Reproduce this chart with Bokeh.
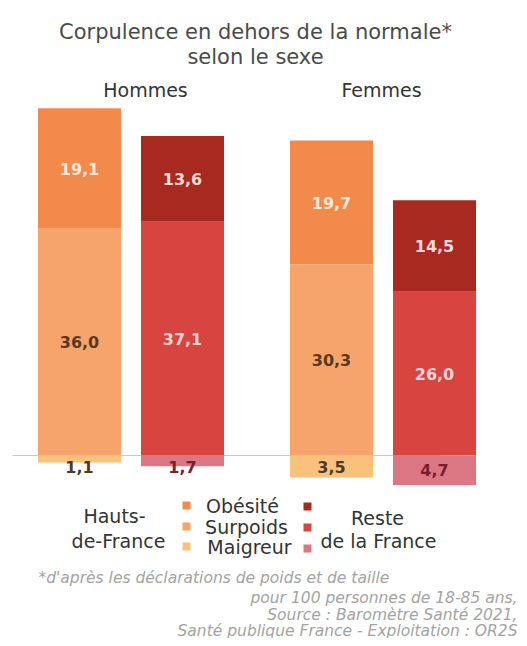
from bokeh.plotting import figure
from bokeh.models import Range1d, ColumnDataSource, Label
from bokeh.core.properties import value
from bokeh.embed import file_html
from bokeh.resources import INLINE

# ---- data ----
groups = ["Hommes", "Femmes"]
regions = ["Hauts-de-France", "Reste de la France"]
categories = ["Obésité", "Surpoids", "Maigreur"]
obesite_hdf = [19.1, 19.7]
surpoids_hdf = [36.0, 30.3]
maigreur_hdf = [1.1, 3.5]
obesite_reste = [13.6, 14.5]
surpoids_reste = [37.1, 26.0]
maigreur_reste = [1.7, 4.7]

# ---- layout helpers (picture pixels -> data / screen) ----
W, H = 519, 638
PX = 6.3          # pixels per percentage point
BASE = 455        # picture y of zero line
def dy(py):
    return (BASE - py) / PX
def sy(py):
    return H - py
def sx(px):
    return px

FONT_NAME = "DejaVu Sans"
FONT = value(FONT_NAME)
group_centers = [130, 382]
offsets = [-51, 52]
bar_w = 83

colors = {
    "Hauts-de-France": ["#F28A4C", "#F6A46C", "#F8C27C"],
    "Reste de la France": ["#A8291F", "#D8443F", "#DA7782"],
}
label_colors = {
    "Hauts-de-France": ["#FBE9DC", "#5A381C", "#4A3A2A"],
    "Reste de la France": ["#F6DCD8", "#F6D5D5", "#7A1E2C"],
}

p = figure(width=W, height=H, output_backend="svg", toolbar_location=None,
           x_range=Range1d(0, W), y_range=Range1d(dy(H), dy(0)),
           min_border=0, outline_line_color=None)
p.axis.visible = False
p.grid.visible = False
p.background_fill_color = "white"

# zero line
p.segment(x0=[12], x1=[440], y0=[0], y1=[0], line_color="#C8C8C8", line_width=1.2)

def fmt(v):
    return f"{v:.1f}".replace(".", ",")

series = {
    "Hauts-de-France": (obesite_hdf, surpoids_hdf, maigreur_hdf),
    "Reste de la France": (obesite_reste, surpoids_reste, maigreur_reste),
}
for ri, region in enumerate(regions):
    ob, su, ma = series[region]
    xs = [g + offsets[ri] for g in group_centers]
    src_s = ColumnDataSource(dict(x=xs, bottom=[0] * 2, top=su,
                                  ly=[s / 2 for s in su], t=[fmt(s) for s in su]))
    src_o = ColumnDataSource(dict(x=xs, bottom=su, top=[s + o for s, o in zip(su, ob)],
                                  ly=[s + o / 2 for s, o in zip(su, ob)], t=[fmt(o) for o in ob]))
    src_m = ColumnDataSource(dict(x=xs, bottom=[-m for m in ma], top=[0] * 2,
                                  ly=[-max(m / 2, 1.8) for m in ma], t=[fmt(m) for m in ma]))
    for k, src in enumerate([src_o, src_s, src_m]):
        p.vbar(x="x", bottom="bottom", top="top", width=bar_w, source=src,
               fill_color=colors[region][k], line_color=None)
    for k, src in enumerate([src_o, src_s, src_m]):
        p.text(x="x", y="ly", text="t", source=src, text_font=FONT,
               text_font_size="16px", text_font_style="bold",
               text_color=label_colors[region][k], text_align="center",
               text_baseline="middle")

def lab(text, px, py, size="15px", color="#444444", align="center", style="normal"):
    p.add_layout(Label(x=sx(px), y=sy(py), x_units="screen", y_units="screen",
                       text=text, text_font=FONT_NAME, text_font_size=size,
                       text_color=color, text_align=align, text_baseline="middle",
                       text_font_style=style))

# title
lab("Corpulence en dehors de la normale*", 255, 31, size="21px", color="#4A4A4A")
lab("selon le sexe", 255, 56, size="21px", color="#4A4A4A")
# group labels
lab(groups[0], 145, 89, size="19px", color="#333333")
lab(groups[1], 381, 89, size="19px", color="#333333")

# legend
lab("Hauts-", 114, 515, size="19px", color="#333333")
lab("de-France", 118, 540, size="19px", color="#333333")
lab("Reste", 377, 517, size="19px", color="#333333")
lab("de la France", 378, 540, size="19px", color="#333333")
leg_y = [505, 526, 546]
leg_x = [242, 246, 249]
for k, c in enumerate(categories):
    lab(c, leg_x[k], leg_y[k], size="19px", color="#333333")
p.scatter(x=[186] * 3, y=[dy(v) for v in leg_y], marker="square", size=8,
          fill_color=colors["Hauts-de-France"], line_color=None)
p.scatter(x=[307] * 3, y=[dy(v) for v in [506, 527, 548]], marker="square", size=8,
          fill_color=colors["Reste de la France"], line_color=None)

# footnotes
FN = "15.5px"
FC = "#A3A3A3"
lab("*d'après les déclarations de poids et de taille", 38, 577, size=FN,
    color=FC, align="left", style="italic")
lab("pour 100 personnes de 18-85 ans,", 517, 597, size=FN,
    color=FC, align="right", style="italic")
lab("Source : Baromètre Santé 2021,", 517, 614, size=FN,
    color=FC, align="right", style="italic")
lab("Santé publique France - Exploitation : OR2S", 517, 630, size=FN,
    color=FC, align="right", style="italic")

open("out.html", "w").write(file_html(p, INLINE))
